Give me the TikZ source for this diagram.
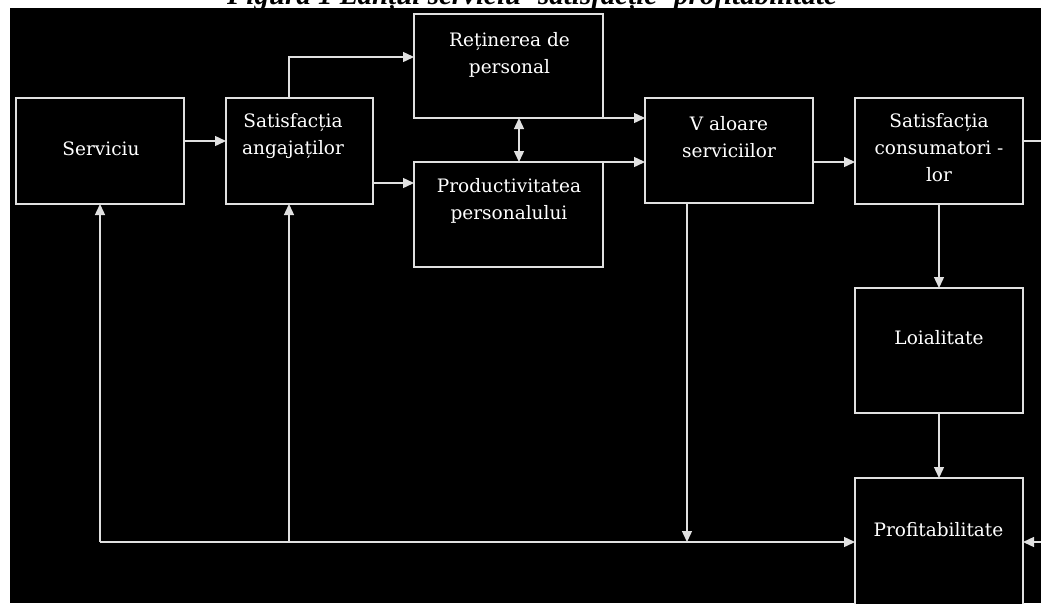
\documentclass[tikz,border=0pt]{standalone}
\usepackage{fontspec}
\usetikzlibrary{arrows.meta}
\newfontfamily\boxfont{DejaVu Serif}
\newfontfamily\titlefont{Liberation Serif}
\definecolor{linec}{gray}{0.88}
\tikzset{
  boxn/.style={draw=linec, line width=1.4pt, fill=black, inner sep=0pt, outer sep=0pt, rectangle},
  txt/.style={text=white, font=\boxfont\fontsize{18.5}{27}\selectfont, align=center, inner sep=0pt, anchor=base},
  conn/.style={draw=linec, line width=1.4pt},
  arr/.style={conn, -{Triangle[length=11pt,width=10pt]}},
  arrtwo/.style={conn, {Triangle[length=11pt,width=10pt]}-{Triangle[length=11pt,width=10pt]}}
}
\begin{document}
\begin{tikzpicture}[x=1pt,y=-1pt]
\useasboundingbox (0,0) rectangle (1041,603);
\fill[white] (0,0) rectangle (1041,603);
\node[anchor=base, inner sep=0pt, font=\titlefont\bfseries\itshape\fontsize{29}{30}\selectfont] (title) at (532,4) {Figura 1 Lanțul serviciu- satisfacție- profitabilitate};
\fill[black] (10,7.7) rectangle (1041,603);

% boxes
\node[boxn, minimum width=168pt, minimum height=106pt] (serv) at (100,151) {};
\node[boxn, minimum width=147pt, minimum height=106pt] (sata) at (299.5,151) {};
\node[boxn, minimum width=189pt, minimum height=104pt] (ret) at (508.5,66) {};
\node[boxn, minimum width=189pt, minimum height=105pt] (prod) at (508.5,214.5) {};
\node[boxn, minimum width=168pt, minimum height=105pt] (val) at (729,150.5) {};
\node[boxn, minimum width=168pt, minimum height=106pt] (satc) at (939,151) {};
\node[boxn, minimum width=168pt, minimum height=125pt] (loi) at (939,350.5) {};
\node[boxn, minimum width=168pt, minimum height=172pt] (prof) at (939,564) {};

% texts (anchor = baseline of the last line)
\node[txt] (servT) at (101,155) {Serviciu};
\node[txt] (sataT) at (293,154) {Satisfacția\\angajaților};
\node[txt] (retT) at (509.5,73) {Reținerea de\\personal};
\node[txt] (prodT) at (509,219) {Productivitatea\\personalului};
\node[txt] (valT) at (729,157) {V aloare\\serviciilor};
\node[txt] (satcT) at (939,181) {Satisfacția\\consumatori -\\lor};
\node[txt] (loiT) at (939,344) {Loialitate};
\node[txt] (profT) at (938.5,536) {Profitabilitate};

% helper coordinates
\coordinate (sy) at (0,141);
\coordinate (py) at (0,183);
\coordinate (vy) at (0,162);
\coordinate (sx) at (289,57);
\coordinate (dx) at (519,0);
\coordinate (busL) at (100,542);
\coordinate (busS) at (289,542);
\coordinate (vx) at (687,542);
\coordinate (rl) at (1052,141);

% connectors
\draw[arr] (serv.east |- sy) -- (sata.west |- sy);
\draw[arr] (sx |- sata.north) -- (sx) -- (ret.west |- sx);
\draw[arr] (sata.east |- py) -- (prod.west |- py);
\draw[arrtwo] (dx |- ret.south) -- (dx |- prod.north);
\draw[arr] (ret.south east) -- (val.west |- ret.south east);
\draw[arr] (prod.north east) -- (val.west |- prod.north east);
\draw[arr] (val.east |- vy) -- (satc.west |- vy);
\draw[arr] (satc.east |- rl) -- (rl) -- (rl |- busL) -- (prof.east |- busL);
\draw[arr] (satc.south) -- (loi.north);
\draw[arr] (loi.south) -- (prof.north);
\draw[arr] (vx |- val.south) -- (vx);
\draw[arr] (busL) -- (prof.west |- busL);
\draw[arr] (busL) -- (serv.south);
\draw[arr] (busS) -- (busS |- sata.south);
\end{tikzpicture}
\end{document}
